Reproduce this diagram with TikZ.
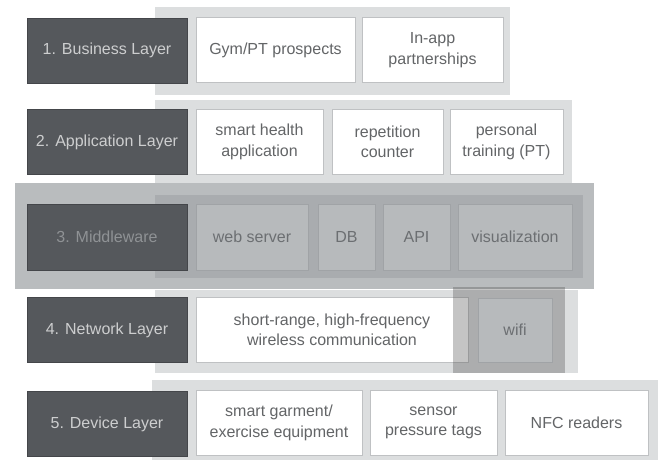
\documentclass[tikz,border=0pt]{standalone}
\usepackage{fontspec}
\setmainfont{Liberation Sans}
\definecolor{labfill}{HTML}{55585C}
\definecolor{labtext}{HTML}{CDCECF}
\definecolor{bglight}{HTML}{DCDEDF}
\definecolor{boxline}{HTML}{BFC1C3}
\definecolor{boxtext}{HTML}{636567}
\definecolor{midouter}{HTML}{B9BCBE}
\definecolor{midinner}{HTML}{A9ACAF}
\definecolor{midbox}{HTML}{B7BABC}
\definecolor{midline}{HTML}{A0A3A6}
\definecolor{midtext}{HTML}{6C6F72}
\definecolor{midlab}{HTML}{8F9295}
\tikzset{
  base/.style={rectangle, inner sep=2pt, align=center, font=\fontsize{16}{20.5}\selectfont},
  lab/.style={base, fill=labfill, draw=labfill!80!black, line width=0.4pt, text=labtext, minimum width=160pt, minimum height=65pt},
  wbox/.style={base, fill=white, draw=boxline, line width=0.8pt, text=boxtext, minimum height=65pt},
  mbox/.style={base, fill=midbox, draw=midline, line width=0.8pt, text=midtext, minimum height=66pt},
  bgpanel/.style={fill=bglight, draw=none},
}
\begin{document}
\begin{tikzpicture}[x=1pt,y=-1pt]
\useasboundingbox (0,0) rectangle (662,462);
\fill[white] (0,0) rectangle (662,462);
% Row 1
\fill[bgpanel] (155,7) rectangle (510,95);
\node[lab] (l1) at (107,50.5) {1. Business Layer};
\node[wbox, minimum width=159pt] (gym) at (275.5,50) {Gym/PT prospects};
\node[wbox, minimum width=141pt] (inapp) at (432.5,50) {In-app\\partnerships};
% Row 2
\fill[bgpanel] (155,100) rectangle (572,183);
\node[lab] (l2) at (107,142) {2. Application Layer};
\node[wbox, minimum width=127pt] (sha) at (259.5,142) {smart health\\application};
\node[wbox, minimum width=111pt] (rep) at (387.5,142) {repetition\\counter};
\node[wbox, minimum width=113pt] (pt) at (506.5,142) {personal\\training (PT)};
% Row 3
\fill[midouter] (15,183) rectangle (594,289);
\fill[midinner] (155,195) rectangle (583,278);
\node[lab, text=midlab, minimum height=66pt] (l3) at (107,237) {3. Middleware};
\node[mbox, minimum width=112pt] (web) at (252,237) {web server};
\node[mbox, minimum width=57pt] (db) at (346.5,237) {DB};
\node[mbox, minimum width=67pt] (api) at (416.5,237) {API};
\node[mbox, minimum width=114pt] (vis) at (515,237) {visualization};
% Row 4
\fill[bgpanel] (155,290) rectangle (578,373);
\node[lab] (l4) at (107,330) {4. Network Layer};
\node[wbox, minimum width=272pt] (srw) at (332,330) {short-range, high-frequency\\wireless communication};
\fill[black!70, opacity=0.33] (453,287) rectangle (565,373);
\node[mbox, fill=midbox, minimum width=74pt, minimum height=64pt] (wifi) at (515,330) {wifi};
% Row 5
\fill[bgpanel] (152,380) rectangle (658,460);
\node[lab] (l5) at (107,424) {5. Device Layer};
\node[wbox, minimum width=166pt] (sg) at (279,423) {smart garment/\\exercise equipment};
\node[wbox, minimum width=127pt] (spt) at (433.5,423) {sensor\\pressure tags};
\node[wbox, minimum width=143pt] (nfc) at (576.5,423) {NFC readers};
\end{tikzpicture}
\end{document}
